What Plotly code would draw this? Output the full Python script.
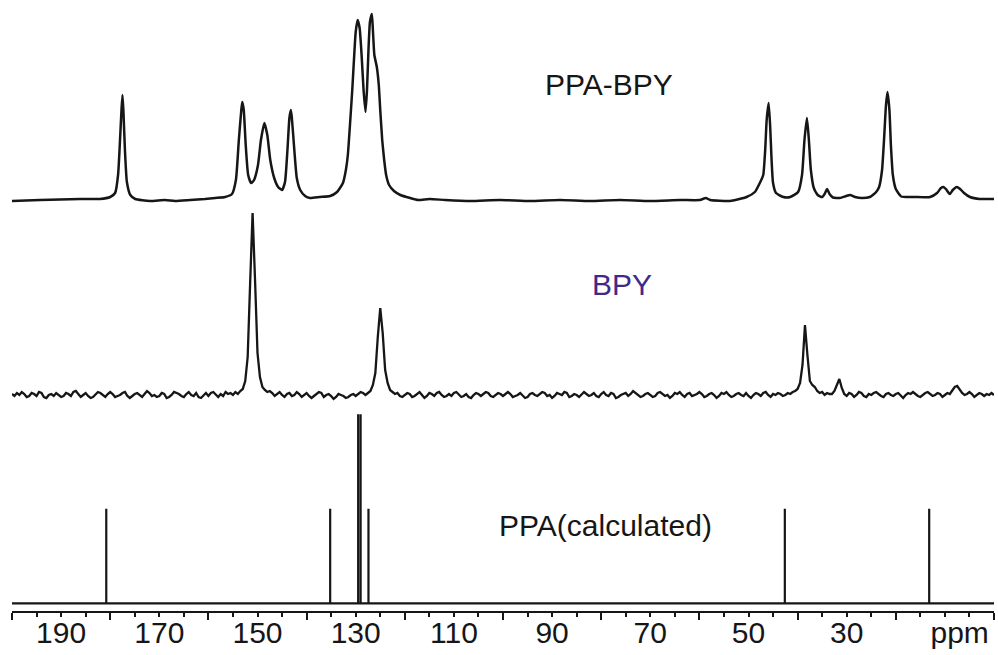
import numpy as np
import plotly.graph_objects as go

# ---------------- data ----------------
# PPA-BPY solid-state 13C spectrum: chemical shift (ppm) and intensity (a.u.)
ppa_bpy_ppm = [
    200, 194.3, 186.1, 182.1, 180.0, 179.0, 178.4, 178.0, 177.7, 177.5,
    177.3, 177.0, 176.6, 175.9, 174.9, 171.9, 168.8, 166.8, 163.7, 160.7,
    158.6, 156.6, 155.2, 154.4, 153.8, 153.3, 153.1, 152.8, 152.4, 151.9,
    151.3, 150.7, 149.9, 149.3, 148.6, 148.0, 147.4, 146.6, 145.8, 145.0,
    144.4, 143.9, 143.5, 143.2, 143.0, 142.5, 142.0, 141.3, 140.3, 139.3,
    137.3, 135.2, 133.8, 132.6, 132.0, 131.6, 131.1, 130.7, 130.3, 130.0,
    129.6, 129.2, 128.8, 128.4, 128.0, 127.7, 127.4, 127.1, 126.7, 126.5,
    126.2, 125.7, 125.3, 125.0, 124.6, 124.2, 123.8, 123.2, 122.2, 120.9,
    118.9, 117.3, 114.9, 111.8, 106.7, 100.6, 94.5, 88.4, 82.3, 76.2,
    70.1, 64.0, 59.9, 58.7, 57.8, 53.8, 50.4, 48.7, 47.6, 47.0,
    46.6, 46.3, 45.9, 45.6, 45.3, 45.0, 44.4, 42.9, 41.5, 39.9,
    39.1, 38.6, 38.1, 37.7, 37.3, 36.7, 35.9, 35.0, 34.4, 34.0,
    33.5, 32.8, 31.4, 30.1, 29.3, 28.3, 26.9, 25.3, 24.0, 23.4,
    22.8, 22.4, 22.0, 21.7, 21.3, 21.0, 20.6, 20.0, 18.9, 16.1,
    13.0, 11.6, 10.8, 10.3, 9.8, 9.0, 8.4, 7.6, 6.9, 6.1,
    4.9, 2.9, 0.0,
]
ppa_bpy_int = [
    -1, 0, 1, 1, 3, 7, 25, 60, 90, 105,
    88, 50, 18, 5, 1, -1, 0, -1, 0, 1,
    2, 3, 6, 20, 60, 90, 98, 90, 55, 25,
    17, 20, 35, 60, 77, 65, 40, 22, 13, 10,
    18, 50, 82, 90, 82, 50, 22, 10, 4, 2,
    3, 4, 8, 17, 30, 45, 80, 110, 145, 168,
    180, 172, 145, 110, 88, 110, 150, 178, 186, 170,
    145, 133, 115, 90, 60, 40, 25, 15, 9, 5,
    2, 0, 1, 0, -1, 0, -1, 0, -1, 0,
    -1, 0, 0, 2, 0, -1, 3, 8, 18, 25,
    50, 80, 97, 75, 40, 17, 7, 3, 3, 8,
    25, 60, 82, 60, 30, 12, 5, 3, 7, 11,
    6, 2.5, 2, 4, 5, 3, 2, 3, 8, 13,
    30, 60, 95, 108, 90, 55, 25, 11, 3.5, 3,
    3, 7, 12, 13, 11, 6, 10, 13, 11, 7,
    3, 1, 1,
]

# BPY spectrum sampled every 0.5 ppm from 200 ppm down to 0 ppm
bpy_start_ppm = 200.0
bpy_step_ppm = 0.5
bpy_int = [
    1, -1, 2, 0, 3, 1, -2, -1, 2, 1, -1, 3, 2, -2, -3, 0, 1, -1, 2, 0,
    -2, -1, 2, 1, -1, 3, 4, 1, -2, 0, 2, -1, -3, -2, 1, 3, 2, 0, -2, 1,
    3, 1, -2, -1, 0, 2, 3, -1, -3, -1, 1, 2, 0, -2, 1, 4, 2, -1, 0, -2,
    -1, 2, 1, -3, -2, 0, 3, 2, 1, -1, -2, 1, 3, 0, -1, 2, -2, -3, 0, 2,
    -1, 2, 3, 0, -2, 1, -1, 3, 1, 2, 0, 3, 1, 4, 6, 14, 38, 112, 182, 115,
    42, 18, 8, 5, 3, 4, 2, -1, 1, 3, 0, -2, 1, 2, -1, 0, 3, 1, -2, 0,
    2, -1, -3, -1, 1, 3, 2, -2, 0, 1, -1, -4, -2, 1, 0, -1, -3, -2, 0, 1,
    -1, 1, 3, 2, 0, 2, 4, 10, 22, 58, 87, 62, 25, 12, 5, 3, 1, 2, -1, -2,
    0, 2, 1, -2, -1, 1, 3, 0, -3, -1, 2, 1, -1, 2, 3, 0, -2, -1, 1, -1,
    2, 3, 0, -2, -1, 1, -2, -3, 0, 2, 1, -1, 1, 3, 2, -1, -2, 0, 2, 1,
    -1, 1, 3, 1, -2, -1, 0, 2, -1, -3, -2, 1, 2, 0, -1, 1, 3, 2, -1, 0,
    -3, -1, 2, 1, 0, 3, 2, -2, -1, 1, 0, -2, 1, 3, 1, -1, 0, 2, -1, -2,
    1, 3, 0, -1, 2, 1, -3, -2, 0, 1, 2, -1, 1, 4, 2, 0, -2, -1, 1, 2,
    0, -2, -1, 2, 3, 1, -1, 0, -3, -1, 2, 1, 3, 0, -2, 1, 2, -1, 0, 1,
    3, 1, -2, -1, 1, 2, 0, -3, -1, 2, 1, 3, 0, -2, -1, 1, 2, 0, -1, 2,
    -1, -3, 0, 2, 1, -1, 2, 3, 0, -2, 1, 0, 2, 1, -1, 0, 2, 1, 3, 4,
    6, 12, 30, 70, 40, 14, 10, 8, 4, 2, 3, 0, 2, 1, 1, 4, 10, 16, 7, 1,
    -1, 2, 1, -2, 0, 3, 2, -1, -2, 1, 0, 2, 3, 1, -1, -2, 1, 2, 0, -1,
    1, 2, -1, -3, 0, 2, 1, 3, 1, -1, -2, 0, 2, 3, 1, -1, 0, 2, 1, -2,
    0, 2, 1, 4, 8, 9, 5, 2, 0, 1, 3, 1, -2, 0, 2, 1, -1, 1, 0, 2,
    0,
]

# Calculated PPA shifts (ppm) and relative line intensities
ppa_calc_ppm = [180.8, 135.2, 129.5, 129.0, 127.4, 42.6, 13.2]
ppa_calc_rel = [1, 1, 2, 2, 1, 1, 1]

# axis labels
label_ppm = [190, 170, 150, 130, 110, 90, 70, 50, 30, 7]
label_text = ["190", "170", "150", "130", "110", "90", "70", "50", "30", "ppm"]
major_tick_ppm = [200, 180, 160, 140, 120, 100, 80, 60, 40, 20, 0]
minor_tick_ppm = [v for v in range(0, 201, 5) if v % 20 != 0]

# ---------------- layout constants ----------------
W, H = 998, 655
INK = "#161616"
BPY_COLOR = "#3f2a8c"
FONT = "Arial, Liberation Sans, sans-serif"
OFF_PPA_BPY = 411      # vertical offsets of the stacked traces
OFF_BPY = 216
OFF_CALC = 7.7
CALC_SCALE = 94.5      # height of a unit-intensity stick

bpy_ppm = bpy_start_ppm - bpy_step_ppm * np.arange(len(bpy_int))

# stick spectrum: baseline with vertical lines at each calculated shift
stick_x, stick_y = [200], [0]
for p, r in zip(ppa_calc_ppm, ppa_calc_rel):
    stick_x += [p, p, p]
    stick_y += [0, r * CALC_SCALE, 0]
stick_x.append(0)
stick_y.append(0)

fig = go.Figure()
fig.add_trace(go.Scatter(
    x=ppa_bpy_ppm, y=np.array(ppa_bpy_int) + OFF_PPA_BPY, mode="lines",
    line=dict(color=INK, width=2.5, shape="spline", smoothing=0.5),
    showlegend=False, hoverinfo="skip"))
fig.add_trace(go.Scatter(
    x=bpy_ppm, y=np.array(bpy_int) + OFF_BPY, mode="lines",
    line=dict(color=INK, width=2.3),
    showlegend=False, hoverinfo="skip"))
fig.add_trace(go.Scatter(
    x=stick_x, y=np.array(stick_y) + OFF_CALC, mode="lines",
    line=dict(color=INK, width=2.2),
    showlegend=False, hoverinfo="skip"))
# invisible trace carrying the label axis
fig.add_trace(go.Scatter(
    x=[200, 0], y=[0, 0], xaxis="x2", mode="lines",
    line=dict(width=0), showlegend=False, hoverinfo="skip"))

fig.add_annotation(x=78.4, y=527, text="PPA-BPY", showarrow=False,
                   font=dict(family=FONT, size=30, color=INK))
fig.add_annotation(x=75.8, y=327, text="BPY", showarrow=False,
                   font=dict(family=FONT, size=30, color=BPY_COLOR))
fig.add_annotation(x=79.1, y=86, text="PPA(calculated)", showarrow=False,
                   font=dict(family=FONT, size=30, color=INK))

fig.update_layout(
    width=W, height=H,
    margin=dict(l=12, r=4, t=0, b=44),
    paper_bgcolor="white", plot_bgcolor="white",
    xaxis=dict(
        range=[200, 0], showgrid=False, zeroline=False,
        showline=True, linecolor=INK, linewidth=2,
        tickmode="array", tickvals=major_tick_ppm,
        ticktext=[""] * len(major_tick_ppm),
        ticks="outside", ticklen=7, tickwidth=1.5, tickcolor=INK,
        minor=dict(tickmode="array", tickvals=minor_tick_ppm,
                   ticks="outside", ticklen=4, tickwidth=1.5, tickcolor=INK),
    ),
    xaxis2=dict(
        range=[200, 0], overlaying="x", side="bottom", anchor="y",
        showgrid=False, zeroline=False, showline=False,
        tickmode="array", tickvals=label_ppm, ticktext=label_text,
        ticks="", ticklabelstandoff=1,
        tickfont=dict(family=FONT, size=30, color=INK),
    ),
    yaxis=dict(range=[0, 611], visible=False, fixedrange=True),
)

fig.write_html("out.html")
